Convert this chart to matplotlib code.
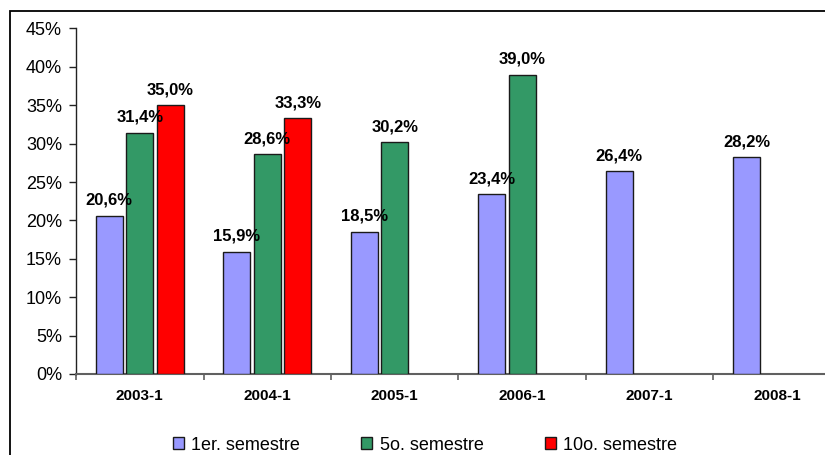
import matplotlib
matplotlib.use("Agg")
import matplotlib.pyplot as plt
from matplotlib.patches import Patch, Rectangle
import numpy as np

plt.rcParams['font.family'] = ['Liberation Sans', 'DejaVu Sans']

categories = ["2003-1", "2004-1", "2005-1", "2006-1", "2007-1", "2008-1"]
series_names = ["1er. semestre", "5o. semestre", "10o. semestre"]
primer = [0.206, 0.159, 0.185, 0.234, 0.264, 0.282]
quinto = [0.314, 0.286, 0.302, 0.390, None, None]
decimo = [0.350, 0.333, None, None, None, None]
colors = ["#9999FF", "#339966", "#FF0000"]
ytick_vals = [0.00, 0.05, 0.10, 0.15, 0.20, 0.25, 0.30, 0.35, 0.40, 0.45]

W, H = 825, 455
fig = plt.figure(figsize=(W / 100, H / 100), dpi=100)

# outer chart border (extends past the cropped right/bottom edges)
fig.patches.append(Rectangle((9.5 / W, -0.05), 1.1, 1 - 11 / H + 0.05,
                             transform=fig.transFigure, fill=False,
                             edgecolor="black", linewidth=1.3))

left_px, right_px, top_px, bot_px = 76, 841, 28.5, 374
ax = fig.add_axes([left_px / W, 1 - bot_px / H,
                   (right_px - left_px) / W, (bot_px - top_px) / H])

x = np.arange(len(categories))
width = 0.21
offsets = [-0.24, 0.0, 0.24]
all_series = [primer, quinto, decimo]

for s, (vals, col, off) in enumerate(zip(all_series, colors, offsets)):
    for i, v in enumerate(vals):
        if v is None:
            continue
        ax.bar(x[i] + off, v, width=width, color=col, edgecolor="#1a1a1a",
               linewidth=1.0, zorder=3)
        ax.annotate(f"{v * 100:.1f}%".replace(".", ","),
                    (x[i] + off, v), xytext=(0, 8), textcoords="offset points",
                    ha="center", va="baseline", fontsize=12,
                    fontweight="bold", zorder=4)

ax.set_xlim(-0.5, len(categories) - 0.5)
ax.set_ylim(0, 0.45)
ax.set_yticks(ytick_vals)
ax.set_yticklabels([f"{int(round(v * 100))}%" for v in ytick_vals], fontsize=13)
ax.set_xticks(x)
ax.set_xticklabels(categories, fontsize=11, fontweight="bold")
ax.set_xticks(np.arange(-0.5, len(categories), 1.0), minor=True)
ax.tick_params(axis="x", which="major", length=0, pad=10.5)
ax.tick_params(axis="x", which="minor", length=4, width=1.2, color="#606060",
               direction="out")
ax.tick_params(axis="y", length=5, width=1.0, color="#222222", direction="out",
               pad=5)

for sp in ["top", "right"]:
    ax.spines[sp].set_visible(False)
ax.spines["left"].set_color("#222222")
ax.spines["left"].set_linewidth(1.0)
ax.spines["bottom"].set_color("#606060")
ax.spines["bottom"].set_linewidth(1.5)
ax.set_facecolor("none")

handles = [Patch(facecolor=c, edgecolor="#1a1a1a", linewidth=1.0) for c in colors]
fig.legend(handles, series_names, loc="center",
           bbox_to_anchor=(425 / W, 1 - 445 / H), ncol=3, frameon=False,
           fontsize=13, handlelength=0.6, handleheight=0.6,
           handletextpad=0.4, columnspacing=3.4, borderpad=0, borderaxespad=0)

fig.savefig("out.png", dpi=100)
